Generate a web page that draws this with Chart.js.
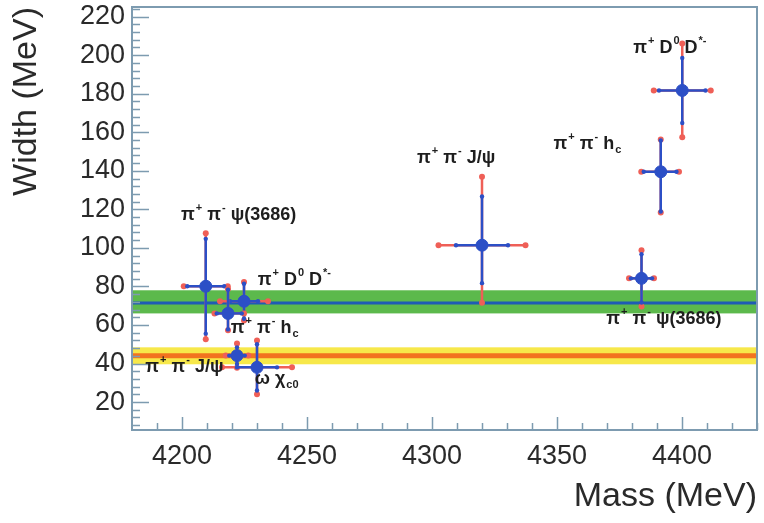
<!DOCTYPE html>
<html>
<head>
<meta charset="utf-8">
<script src="https://cdn.jsdelivr.net/npm/chart.js@4"></script>
<style>
  html, body { margin: 0; padding: 0; background: #fff; }
  #wrap { width: 764px; height: 523px; position: relative; }
</style>
</head>
<body>
<div id="wrap"><canvas id="chart"></canvas></div>
<script>
// Resonance parameters (MeV): central values, stat and syst errors
const mass       = [4209.5, 4224.8, 4218.4, 4222.0, 4230.0, 4320.0, 4391.5, 4400.1, 4383.8];
const massStatLo = [7.4, 5.6, 4.5, 3.1, 8.0, 10.4, 6.8, 9.3, 4.2];
const massStatHi = [7.4, 5.6, 5.5, 3.1, 8.0, 10.4, 6.3, 9.3, 4.2];
const massSys    = [1.4, 4.0, 0.9, 1.4, 6.0, 7.0, 1.0, 2.1, 0.8];
const width       = [80.1, 72.3, 66.0, 44.1, 38.0, 101.4, 139.5, 181.7, 84.2];
const widthStatLo = [24.6, 9.1, 8.3, 4.3, 12.0, 19.7, 20.6, 16.9, 12.5];
const widthStatHi = [24.6, 9.1, 12.3, 4.3, 12.0, 25.3, 16.2, 16.9, 12.5];
const widthSys    = [2.9, 0.9, 0.4, 2.0, 2.0, 10.2, 0.6, 7.4, 2.1];

// Averages shown as bands: [low, centre, high]
const greenBand  = [66.0, 71.4, 78.0];
const yellowBand = [39.6, 44.0, 48.4];

const xTicks = [4200, 4250, 4300, 4350, 4400];
const yTicks = [20, 40, 60, 80, 100, 120, 140, 160, 180, 200, 220];

// Channel labels: text (^{} sup, _{} sub), anchor in data coords (left, baseline)
const labelText = ['π^{+} π^{-} ψ(3686)', 'π^{+} D^{0} D^{*-}', 'π^{+} π^{-} h_{c}', 'π^{+} π^{-} J/ψ', 'ω χ_{c0}',
                   'π^{+} π^{-} J/ψ', 'π^{+} π^{-} h_{c}', 'π^{+} D^{0} D^{*-}', 'π^{+} π^{-} ψ(3686)'];
const labelX = [4199.6, 4230.3, 4219.5, 4185.3, 4229.1, 4294.0, 4348.6, 4380.5, 4369.7];
const labelY = [114.6, 81.0, 55.7, 35.5, 29.3, 144.0, 151.3, 201.0, 60.3];

const BLUE = '#2c4fc6';
const RED = '#ef5f57';
const FRAME = '#7d9bb0';
const FONT = '"Liberation Sans", Arial, sans-serif';

function parseLabel(str) {
  const parts = [];
  const re = /([\^_])\{([^}]*)\}|([^\^_]+)/g;
  let m;
  while ((m = re.exec(str))) {
    if (m[3]) parts.push({ t: m[3], k: '' });
    else parts.push({ t: m[2], k: m[1] === '^' ? 'sup' : 'sub' });
  }
  return parts;
}

const bandsPlugin = {
  id: 'bands',
  beforeDatasetsDraw(chart) {
    const { ctx, chartArea: a, scales: { x, y } } = chart;
    ctx.save();
    ctx.beginPath();
    ctx.rect(a.left, a.top, a.right - a.left, a.bottom - a.top);
    ctx.clip();
    ctx.fillStyle = '#5cb94c';
    ctx.fillRect(a.left, y.getPixelForValue(greenBand[2]), a.right - a.left,
      y.getPixelForValue(greenBand[0]) - y.getPixelForValue(greenBand[2]));
    ctx.fillStyle = '#f7e84a';
    ctx.fillRect(a.left, y.getPixelForValue(yellowBand[2]), a.right - a.left,
      y.getPixelForValue(yellowBand[0]) - y.getPixelForValue(yellowBand[2]));
    ctx.lineWidth = 3;
    ctx.strokeStyle = '#1f5bb5';
    let py = y.getPixelForValue(greenBand[1]);
    ctx.beginPath(); ctx.moveTo(a.left, py); ctx.lineTo(a.right, py); ctx.stroke();
    ctx.lineWidth = 5;
    ctx.strokeStyle = '#f2731f';
    py = y.getPixelForValue(yellowBand[1]);
    ctx.beginPath(); ctx.moveTo(a.left, py); ctx.lineTo(a.right, py); ctx.stroke();
    ctx.restore();

    // error bars: red = stat + syst, blue = stat
    const dot = (px, py, r, c) => { ctx.fillStyle = c; ctx.beginPath(); ctx.arc(px, py, r, 0, Math.PI * 2); ctx.fill(); };
    const seg = (x1, y1, x2, y2, c, w) => {
      ctx.strokeStyle = c; ctx.lineWidth = w;
      ctx.beginPath(); ctx.moveTo(x1, y1); ctx.lineTo(x2, y2); ctx.stroke();
    };
    ctx.save();
    mass.forEach((m, i) => {
      const cx = x.getPixelForValue(m), cy = y.getPixelForValue(width[i]);
      const xl = x.getPixelForValue(m - massStatLo[i] - massSys[i]);
      const xr = x.getPixelForValue(m + massStatHi[i] + massSys[i]);
      const yt = y.getPixelForValue(width[i] + widthStatHi[i] + widthSys[i]);
      const yb = y.getPixelForValue(width[i] - widthStatLo[i] - widthSys[i]);
      seg(xl, cy, xr, cy, RED, 2.5);
      seg(cx, yt, cx, yb, RED, 2.5);
      [[xl, cy], [xr, cy], [cx, yt], [cx, yb]].forEach(p => dot(p[0], p[1], 3, RED));
      const sxl = x.getPixelForValue(m - massStatLo[i]);
      const sxr = x.getPixelForValue(m + massStatHi[i]);
      const syt = y.getPixelForValue(width[i] + widthStatHi[i]);
      const syb = y.getPixelForValue(width[i] - widthStatLo[i]);
      seg(sxl, cy, sxr, cy, BLUE, 2.5);
      seg(cx, syt, cx, syb, BLUE, 2.5);
      [[sxl, cy], [sxr, cy], [cx, syt], [cx, syb]].forEach(p => dot(p[0], p[1], 2.2, BLUE));
    });
    ctx.restore();
  }
};

const framePlugin = {
  id: 'frame',
  afterDraw(chart) {
    const { ctx, chartArea: a, scales: { x, y } } = chart;
    ctx.save();
    ctx.strokeStyle = FRAME;
    ctx.lineWidth = 2;
    ctx.strokeRect(a.left, a.top, a.right - a.left, a.bottom - a.top);
    ctx.lineWidth = 1.5;
    ctx.beginPath();
    for (let v = 8; v <= 224; v += 4) {
      const py = Math.round(y.getPixelForValue(v)) + 0.5;
      const len = v % 20 === 0 ? 17 : 8;
      ctx.moveTo(a.left, py); ctx.lineTo(a.left + len, py);
    }
    for (let v = 4190; v <= 4430; v += 10) {
      const px = Math.round(x.getPixelForValue(v)) + 0.5;
      const len = v % 50 === 0 ? 13 : 7;
      ctx.moveTo(px, a.bottom); ctx.lineTo(px, a.bottom - len);
    }
    ctx.stroke();

    // channel labels
    ctx.fillStyle = '#1e1e1e';
    ctx.textBaseline = 'alphabetic';
    labelText.forEach((s, i) => {
      let px = x.getPixelForValue(labelX[i]);
      const py = y.getPixelForValue(labelY[i]);
      parseLabel(s).forEach(p => {
        if (p.k === '') {
          ctx.font = 'bold 18px ' + FONT;
          ctx.fillText(p.t, px, py);
        } else {
          ctx.font = 'bold 11px ' + FONT;
          ctx.fillText(p.t, px + 1, p.k === 'sup' ? py - 9 : py + 4);
        }
        px += ctx.measureText(p.t).width + (p.k ? 1 : 0);
      });
    });
    ctx.restore();
  }
};

new Chart(document.getElementById('chart'), {
  type: 'scatter',
  data: {
    datasets: [{
      data: mass.map((m, i) => ({ x: m, y: width[i] })),
      backgroundColor: BLUE,
      borderColor: BLUE,
      pointRadius: 6,
      pointHoverRadius: 6
    }]
  },
  options: {
    responsive: true,
    maintainAspectRatio: false,
    animation: false,
    events: [],
    layout: { padding: { top: 5, right: 4, left: 0, bottom: 0 } },
    plugins: { legend: { display: false }, tooltip: { enabled: false } },
    scales: {
      x: {
        type: 'linear',
        min: 4180, max: 4430,
        afterBuildTicks: s => { s.ticks = xTicks.map(v => ({ value: v })); },
        afterFit: s => { s.height = 93; s.paddingLeft = 0; s.paddingRight = 0; },
        grid: { display: false, drawTicks: false },
        border: { display: false },
        ticks: { color: '#2a2a2a', padding: 10, font: { size: 27, family: FONT }, maxRotation: 0,
                 callback: v => String(v) },
        title: { display: true, text: 'Mass (MeV)', align: 'end', color: '#2a2a2a',
                 font: { size: 34, family: FONT }, padding: { top: 0, bottom: 6 } }
      },
      y: {
        min: 5.5, max: 225,
        afterBuildTicks: s => { s.ticks = yTicks.map(v => ({ value: v })); },
        afterFit: s => { s.width = 132; s.paddingTop = 0; s.paddingBottom = 0; },
        grid: { display: false, drawTicks: false },
        border: { display: false },
        ticks: { color: '#2a2a2a', padding: 7, font: { size: 27, family: FONT } },
        title: { display: true, text: 'Width (MeV)', align: 'end', color: '#2a2a2a',
                 font: { size: 34, family: FONT }, padding: { top: 6, bottom: 0 } }
      }
    }
  },
  plugins: [bandsPlugin, framePlugin]
});
</script>
</body>
</html>
